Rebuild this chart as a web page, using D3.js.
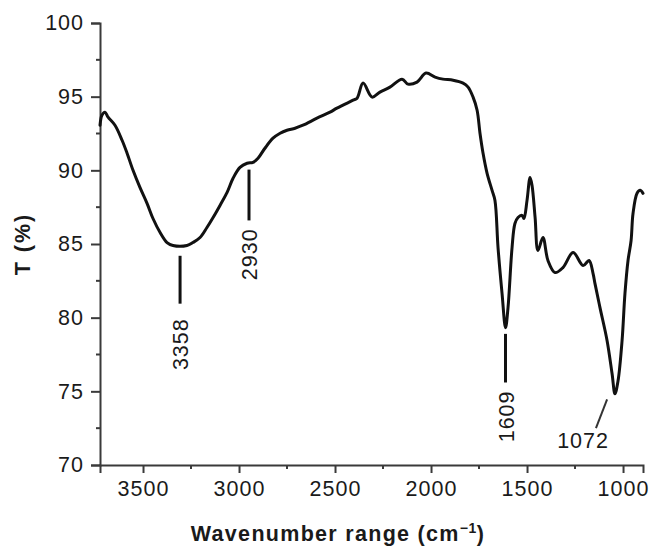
<!DOCTYPE html>
<html>
<head>
<meta charset="utf-8">
<script src="https://cdn.jsdelivr.net/npm/d3@7"></script>
<style>
  html, body { margin: 0; padding: 0; background: #fff; }
  svg { display: block; font-family: "Liberation Sans", Arial, Helvetica, sans-serif; }
</style>
</head>
<body>
<svg id="chart" width="650" height="546"></svg>
<script>
// FTIR transmittance spectrum
const wavenumbers = [
  3724, 3714, 3698, 3682, 3646, 3609, 3583, 3552, 3516, 3479,
  3448, 3411, 3375, 3344, 3271, 3240, 3203, 3167, 3135, 3099,
  3062, 3031, 2995, 2958, 2927, 2901, 2865, 2823, 2786, 2750,
  2708, 2667, 2594, 2526, 2490, 2406, 2385, 2354, 2307, 2266,
  2214, 2151, 2120, 2073, 2026, 1979, 1938, 1885, 1833, 1807,
  1781, 1760, 1745, 1729, 1708, 1682, 1667, 1651, 1630, 1612,
  1599, 1578, 1563, 1547, 1526, 1516, 1500, 1484, 1474, 1458,
  1443, 1417, 1391, 1354, 1313, 1260, 1208, 1177, 1156, 1146,
  1120, 1083, 1057, 1042, 1026, 1005, 990, 974, 958, 948,
  927, 911, 896
];
const transmittance = [
  93.06, 93.74, 93.95, 93.61, 93.06, 92.04, 91.16, 90.00, 88.84, 87.76,
  86.73, 85.78, 85.10, 84.90, 84.90, 85.10, 85.44, 86.12, 86.80, 87.62,
  88.50, 89.46, 90.20, 90.48, 90.54, 90.82, 91.50, 92.18, 92.52, 92.72,
  92.86, 93.06, 93.54, 93.95, 94.22, 94.76, 94.90, 95.92, 94.97, 95.31,
  95.65, 96.19, 95.85, 95.99, 96.60, 96.33, 96.19, 96.12, 95.92, 95.65,
  94.97, 94.08, 92.52, 91.16, 89.80, 88.64, 87.96, 84.76, 81.63, 79.32,
  80.68, 84.76, 86.39, 86.80, 86.94, 86.73, 87.96, 89.52, 88.98, 86.80,
  84.56, 85.44, 83.88, 83.06, 83.40, 84.42, 83.54, 83.88, 82.99, 82.31,
  80.68, 78.44, 76.19, 74.83, 75.71, 78.44, 81.63, 83.88, 85.24, 87.07,
  88.44, 88.64, 88.44
];

const xTicks = [3500, 3000, 2500, 2000, 1500, 1000];
const xMinorTicks = [3250, 2750, 2250, 1750, 1250];
const yTicks = [70, 75, 80, 85, 90, 95, 100];
const yMinorTicks = [72.5, 77.5, 82.5, 87.5, 92.5, 97.5];

// Band assignments: label, wavenumber where the marker sits, marker span (T), label centre
const bandLabels = ["3358", "2930", "1609"];
const bandAt = [3307, 2948, 1612];
const bandTop = [84.2, 90.05, 78.9];
const bandBottom = [80.95, 86.6, 75.6];
const bandTextT = [78.2, 84.3, 73.3];

// Slanted leader for the 1072 band
const leaderLabel = "1072";
const leaderFrom = [1083, 74.45];
const leaderTo = [1141, 72.5];
const leaderText = [1208, 71.6];

const svg = d3.select("#chart");
const margin = { left: 100, right: 7, top: 23, bottom: 81 };
const W = 650, H = 546;

const x = d3.scaleLinear().domain([3724, 896]).range([margin.left, W - margin.right]);
const y = d3.scaleLinear().domain([70, 100]).range([H - margin.bottom, margin.top]);

const axisColor = "#3a3a3a";
const textColor = "#1a1a1a";
const labelSize = "21.5px";
const labelSpacing = "1px";

// y axis
const yAxis = svg.append("g")
  .attr("transform", `translate(${margin.left},0)`)
  .call(d3.axisLeft(y).tickValues(yTicks).tickSize(9).tickPadding(8).tickFormat(d3.format("d")));
yAxis.append("g").selectAll("line").data(yMinorTicks).join("line")
  .attr("x1", 0).attr("x2", -4).attr("y1", d => y(d)).attr("y2", d => y(d));

// x axis
const xAxis = svg.append("g")
  .attr("transform", `translate(0,${y(70)})`)
  .call(d3.axisBottom(x).tickValues(xTicks).tickSize(8).tickPadding(8).tickFormat(d3.format("d")));
xAxis.append("g").selectAll("line").data(xMinorTicks).join("line")
  .attr("y1", 0).attr("y2", 4).attr("x1", d => x(d)).attr("x2", d => x(d));

[yAxis, xAxis].forEach(g => {
  g.select(".domain").attr("stroke", axisColor).attr("stroke-width", 2);
  g.selectAll("line").attr("stroke", axisColor).attr("stroke-width", 2);
  g.selectAll("text").attr("fill", textColor)
    .style("font-size", labelSize).style("letter-spacing", labelSpacing)
    .style("font-family", "'Liberation Sans', Arial, sans-serif");
});
yAxis.selectAll(".tick text").attr("dx", "1px");

// spectrum
const points = wavenumbers.map((w, i) => [w, transmittance[i]]);
const line = d3.line()
  .x(d => x(d[0])).y(d => y(d[1]))
  .curve(d3.curveCatmullRom.alpha(0.5));
svg.append("path")
  .datum(points)
  .attr("d", line)
  .attr("fill", "none")
  .attr("stroke", "#111")
  .attr("stroke-width", 3)
  .attr("stroke-linejoin", "round")
  .attr("stroke-linecap", "round");

// band markers
bandLabels.forEach((lab, i) => {
  svg.append("line")
    .attr("x1", x(bandAt[i])).attr("x2", x(bandAt[i]))
    .attr("y1", y(bandTop[i])).attr("y2", y(bandBottom[i]))
    .attr("stroke", "#111").attr("stroke-width", 3);
  svg.append("text")
    .attr("transform", `translate(${x(bandAt[i]) + 1},${y(bandTextT[i])}) rotate(-90)`)
    .attr("text-anchor", "middle")
    .attr("dominant-baseline", "central")
    .attr("fill", textColor)
    .style("font-size", labelSize).style("letter-spacing", labelSpacing)
    .text(lab);
});

svg.append("line")
  .attr("x1", x(leaderFrom[0])).attr("y1", y(leaderFrom[1]))
  .attr("x2", x(leaderTo[0])).attr("y2", y(leaderTo[1]))
  .attr("stroke", "#333").attr("stroke-width", 2);
svg.append("text")
  .attr("x", x(leaderText[0])).attr("y", y(leaderText[1]))
  .attr("text-anchor", "middle")
  .attr("dominant-baseline", "central")
  .attr("fill", textColor)
  .style("font-size", labelSize).style("letter-spacing", labelSpacing)
  .text(leaderLabel);

// axis titles
const xTitle = svg.append("text")
  .attr("x", 338).attr("y", 541)
  .attr("text-anchor", "middle")
  .attr("fill", textColor)
  .style("font-size", "21.5px").style("font-weight", "bold").style("letter-spacing", "1.3px");
xTitle.append("tspan").text("Wavenumber range (cm");
xTitle.append("tspan").attr("dy", -8).style("font-size", "14px").style("letter-spacing", "0.5px").text("\u22121");
xTitle.append("tspan").attr("dy", 8).text(")");

svg.append("text")
  .attr("transform", `translate(30,${y(85)}) rotate(-90)`)
  .attr("text-anchor", "middle")
  .attr("fill", textColor)
  .style("font-size", "21.5px").style("font-weight", "bold").style("letter-spacing", "2px")
  .text("T (%)");
</script>
</body>
</html>
